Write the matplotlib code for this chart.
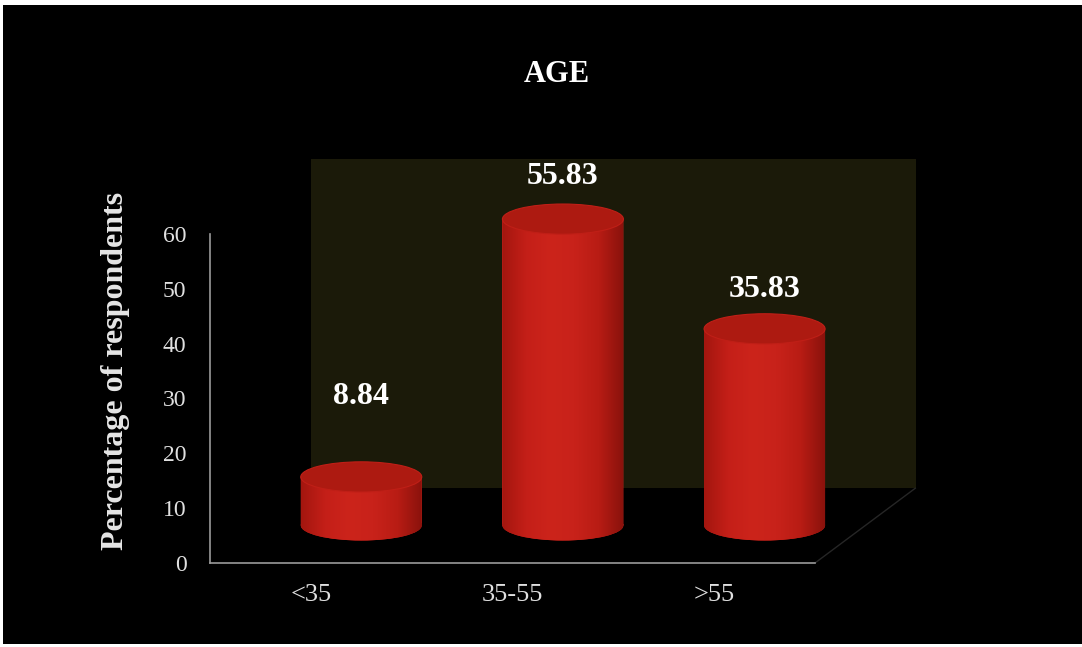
import numpy as np
import matplotlib
matplotlib.use("Agg")
import matplotlib.pyplot as plt
from matplotlib.patches import Rectangle, Ellipse, Polygon, PathPatch
from matplotlib.path import Path
from matplotlib.colors import LinearSegmentedColormap

# data
categories = ["<35", "35-55", ">55"]
values = [8.84, 55.83, 35.83]
yticks = [0, 10, 20, 30, 40, 50, 60]

plt.rcParams['font.family'] = ['Liberation Serif', 'DejaVu Serif']

W, H = 1082, 647
fig = plt.figure(figsize=(W / 100, H / 100), dpi=100, facecolor='white')

# black card with thin white scan border
fig.patches.append(Rectangle((3 / W, 3 / H), 1 - 3 / W, 1 - 8 / H,
                             transform=fig.transFigure, facecolor='black',
                             edgecolor='none', zorder=-10))

ax = fig.add_axes([210 / W, (H - 563) / H, 605 / W, 406 / H])
ax.set_facecolor('none')

depth_x, depth_y = 0.5, 13.7   # perspective offset of the back wall
base = depth_y / 2              # cylinders stand in the middle of the floor
bar_w = 0.6
ell_h = 5.5

# back wall
ax.add_patch(Rectangle((-0.5 + depth_x, depth_y), 3.0, 60, facecolor='#1b1a09',
                       edgecolor='none', zorder=1, clip_on=False))
# floor right edge
ax.add_patch(Polygon([(2.5, 0), (2.5 + depth_x, depth_y)], closed=False,
                     fill=False, edgecolor='#262626', lw=1, zorder=1, clip_on=False))

for s in ['top', 'right']:
    ax.spines[s].set_visible(False)
ax.spines['left'].set_bounds(0, 60)
for s in ['left', 'bottom']:
    ax.spines[s].set_color('#9a9a9a')
    ax.spines[s].set_linewidth(1.2)

ax.set_yticks(yticks)
ax.set_xticks(range(len(categories)))
ax.set_xticklabels(categories)
ax.tick_params(axis='y', length=0, pad=17, labelsize=17, labelcolor='#e0e0e0')
ax.tick_params(axis='x', length=0, pad=15, labelsize=19, labelcolor='#e0e0e0')

red_cmap = LinearSegmentedColormap.from_list(
    'cyl', ['#a3160f', '#c41f18', '#cc241b', '#c8221a', '#b81c14', '#8a120c'])
grad = np.linspace(0, 1, 256).reshape(1, -1)

xs = np.arange(len(values)) + depth_x / 2
bars = ax.bar(xs, values, width=bar_w, bottom=base, color='#c42019', zorder=3,
              clip_on=False)

label_pad = [14.6, 7.7, 7.1]
for x, v, rect, pad in zip(xs, values, bars, label_pad):
    bot = Ellipse((x, base), bar_w, ell_h)
    p1 = rect.get_path().transformed(rect.get_patch_transform())
    p2 = bot.get_path().transformed(bot.get_patch_transform())
    body = PathPatch(Path.make_compound_path(p1, p2), facecolor='#c42019',
                     edgecolor='none', zorder=3, clip_on=False)
    ax.add_patch(body)
    im = ax.imshow(grad, cmap=red_cmap, aspect='auto', zorder=4,
                   extent=(x - bar_w / 2, x + bar_w / 2, base - ell_h / 2, base + v))
    im.set_clip_box(fig.bbox)
    im.set_clip_path(body)
    ax.add_patch(Ellipse((x, base + v), bar_w, ell_h, facecolor='#ad1a11',
                         edgecolor='#c01f17', lw=0.8, zorder=5, clip_on=False))
    ax.text(x, base + v + pad, f"{v:.2f}", ha='center', va='center',
            color='white', fontsize=23, fontweight='bold', zorder=6)

ax.set_xlim(-0.5, 2.5)
ax.set_ylim(0, 74)

fig.text(557 / W, 1 - 74 / H, "AGE", ha='center', va='center', color='white',
         fontsize=22, fontweight='bold')
fig.text(116 / W, 1 - 371 / H, "Percentage of respondents", rotation=90,
         ha='center', va='center', color='#e6e6e6', fontsize=23, fontweight='bold')

fig.savefig("out.png", dpi=100, facecolor=fig.get_facecolor())
